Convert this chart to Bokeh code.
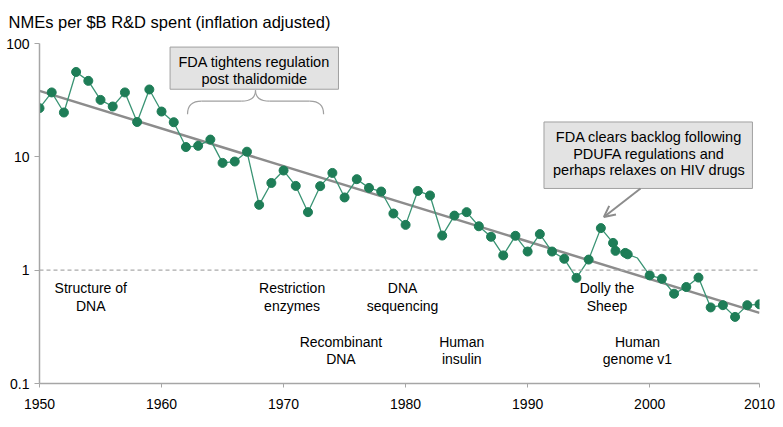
from bokeh.plotting import figure
from bokeh.models import (ColumnDataSource, FixedTicker, CustomJSTickFormatter,
                          Span, Label, Arrow, OpenHead)
from bokeh.embed import file_html
from bokeh.resources import INLINE

# ---------------- data ----------------
years = [1950, 1951, 1952, 1953, 1954, 1955, 1956, 1957, 1958, 1959,
         1960, 1961, 1962, 1963, 1964, 1965, 1966, 1967, 1968, 1969,
         1970, 1971, 1972, 1973, 1974, 1975, 1976, 1977, 1978, 1979,
         1980, 1981, 1982, 1983, 1984, 1985, 1986, 1987, 1988, 1989,
         1990, 1991, 1992, 1993, 1994, 1995, 1996, 1997, 1997.2, 1998,
         1998.2, 1999, 2000, 2001, 2002, 2003, 2004, 2005, 2006, 2007,
         2008, 2009]
nmes = [26.9, 37.0, 24.6, 56.1, 46.8, 31.8, 27.8, 37.0, 20.3, 39.3,
        25.1, 20.2, 12.2, 12.5, 14.2, 8.84, 9.09, 11.1, 3.77, 5.88,
        7.57, 5.54, 3.25, 5.51, 7.21, 4.38, 6.35, 5.32, 4.94, 3.16,
        2.51, 5.00, 4.56, 2.02, 3.03, 3.25, 2.44, 1.97, 1.35, 2.01,
        1.46, 2.08, 1.46, 1.26, 0.855, 1.24, 2.35, 1.74, 1.48, 1.42,
        1.38, 1.28, 0.90, 0.84, 0.62, 0.71, 0.86, 0.469, 0.491, 0.387,
        0.491, 0.50]
unmarked_years = [1999]

trend_years = [1950, 2009]
trend_values = [38.2, 0.42]

y_ticks = [0.1, 1, 10, 100]
x_ticks = [1950, 1960, 1970, 1980, 1990, 2000, 2009]
x_tick_labels = ["1950", "1960", "1970", "1980", "1990", "2000", "2010"]

milestones = [
    ("Structure of", "DNA", 1954.2, "top"),
    ("Restriction", "enzymes", 1970.7, "top"),
    ("DNA", "sequencing", 1979.75, "top"),
    ("Dolly the", "Sheep", 1996.5, "top"),
    ("Recombinant", "DNA", 1974.7, "bottom"),
    ("Human", "insulin", 1984.6, "bottom"),
    ("Human", "genome v1", 1999.0, "bottom"),
]

# ---------------- styling ----------------
FONT = "Liberation Sans"
GREEN = "#1e7d57"
GREEN_LINE = "#3a9474"
GREY = "#8c8c8c"
AXIS = "#a6a6a6"

p = figure(width=783, height=427, y_axis_type="log",
           x_range=(1950, 2009), y_range=(0.1, 100),
           output_backend="svg", toolbar_location=None,
           min_border_left=39, min_border_right=24,
           min_border_top=43, min_border_bottom=44)
p.outline_line_color = None
p.grid.visible = False
p.background_fill_color = "white"

# title
p.title.text = "NMEs per $B R&D spent (inflation adjusted)"
p.title.align = "left"
p.title.vertical_align = "top"
p.title.offset = -31
p.title.standoff = 21
p.title.text_font = FONT
p.title.text_font_size = "16.5px"
p.title.text_font_style = "normal"
p.title.text_color = "black"

# axes
p.xaxis.ticker = FixedTicker(ticks=x_ticks)
p.xaxis.formatter = CustomJSTickFormatter(
    args=dict(t=x_ticks, l=x_tick_labels),
    code="const i = t.indexOf(tick); return i >= 0 ? l[i] : '';")
p.yaxis.ticker = FixedTicker(ticks=y_ticks, minor_ticks=[])
p.yaxis.formatter = CustomJSTickFormatter(code="return tick.toString();")
for ax in (p.xaxis[0], p.yaxis[0]):
    ax.axis_line_color = AXIS
    ax.axis_line_width = 1.5
    ax.major_tick_line_color = AXIS
    ax.minor_tick_line_color = None
    ax.major_tick_in = 0
    ax.major_label_text_font = FONT
    ax.major_label_text_font_size = "14px"
    ax.major_label_text_color = "black"
p.xaxis.major_tick_out = 4
p.yaxis.major_tick_out = 5
p.xaxis.major_label_standoff = 11
p.yaxis.major_label_standoff = 5

# reference line at 1
p.add_layout(Span(location=1, dimension="width", line_color="#aaaaaa",
                  line_dash="4 3", line_width=1.2))

# trend line
p.line(trend_years, trend_values, line_color=GREY, line_width=2.5)

# data
src = ColumnDataSource(dict(x=years, y=nmes))
p.line("x", "y", source=src, line_color=GREEN_LINE, line_width=1.3)
mk = [(x, y) for x, y in zip(years, nmes) if x not in unmarked_years]
msrc = ColumnDataSource(dict(x=[a for a, _ in mk], y=[b for _, b in mk]))
p.scatter("x", "y", source=msrc, size=9, fill_color=GREEN, line_color=GREEN)

# milestones
row_y = {"top": (0.693, 0.481), "bottom": (0.234, 0.166)}
for l1, l2, xm, row in milestones:
    for txt, yy in zip((l1, l2), row_y[row]):
        p.add_layout(Label(x=xm, y=yy, text=txt, text_align="center",
                           text_baseline="middle", text_font=FONT,
                           text_font_size="14px", text_color="black"))

# box 1: FDA tightens regulation
p.quad(left=1960.7, right=1974.5, top=93, bottom=39.5,
       fill_color="#e3e3e3", line_color="#a0a0a0", line_width=1)
for txt, yy in (("FDA tightens regulation", 69.1), ("post thalidomide", 48.4)):
    p.add_layout(Label(x=1967.6, y=yy, text=txt, text_align="center",
                       text_baseline="middle", text_font=FONT,
                       text_font_size="14.5px", text_color="black"))
# brace
p.quadratic(x0=[1962.13, 1966.56, 1967.70, 1972.13],
            y0=[23.8, 31.0, 38.7, 31.0],
            x1=[1963.28, 1967.70, 1968.85, 1973.28],
            y1=[31.0, 38.7, 31.0, 23.8],
            cx=[1962.13, 1967.70, 1967.70, 1973.28],
            cy=[31.0, 31.0, 31.0, 31.0],
            line_color="#a0a0a0", line_width=1.2)
p.segment(x0=[1963.28, 1968.85], y0=[31.0, 31.0],
          x1=[1966.56, 1972.13], y1=[31.0, 31.0],
          line_color="#a0a0a0", line_width=1.2)

# box 2: FDA clears backlog
p.quad(left=1991.34, right=2008.42, top=20.3, bottom=5.26,
       fill_color="#e3e3e3", line_color="#a0a0a0", line_width=1)
for txt, yy in (("FDA clears backlog following", 15.0),
                ("PDUFA regulations and", 10.7),
                ("perhaps relaxes on HIV drugs", 7.62)):
    p.add_layout(Label(x=1999.94, y=yy, text=txt, text_align="center",
                       text_baseline="middle", text_font=FONT,
                       text_font_size="14.5px", text_color="black"))
p.add_layout(Arrow(end=OpenHead(size=11, line_color=GREY, line_width=2),
                   x_start=1999.25, y_start=5.26, x_end=1996.25, y_end=2.95,
                   line_color=GREY, line_width=2))

open("out.html", "w").write(file_html(p, INLINE))
